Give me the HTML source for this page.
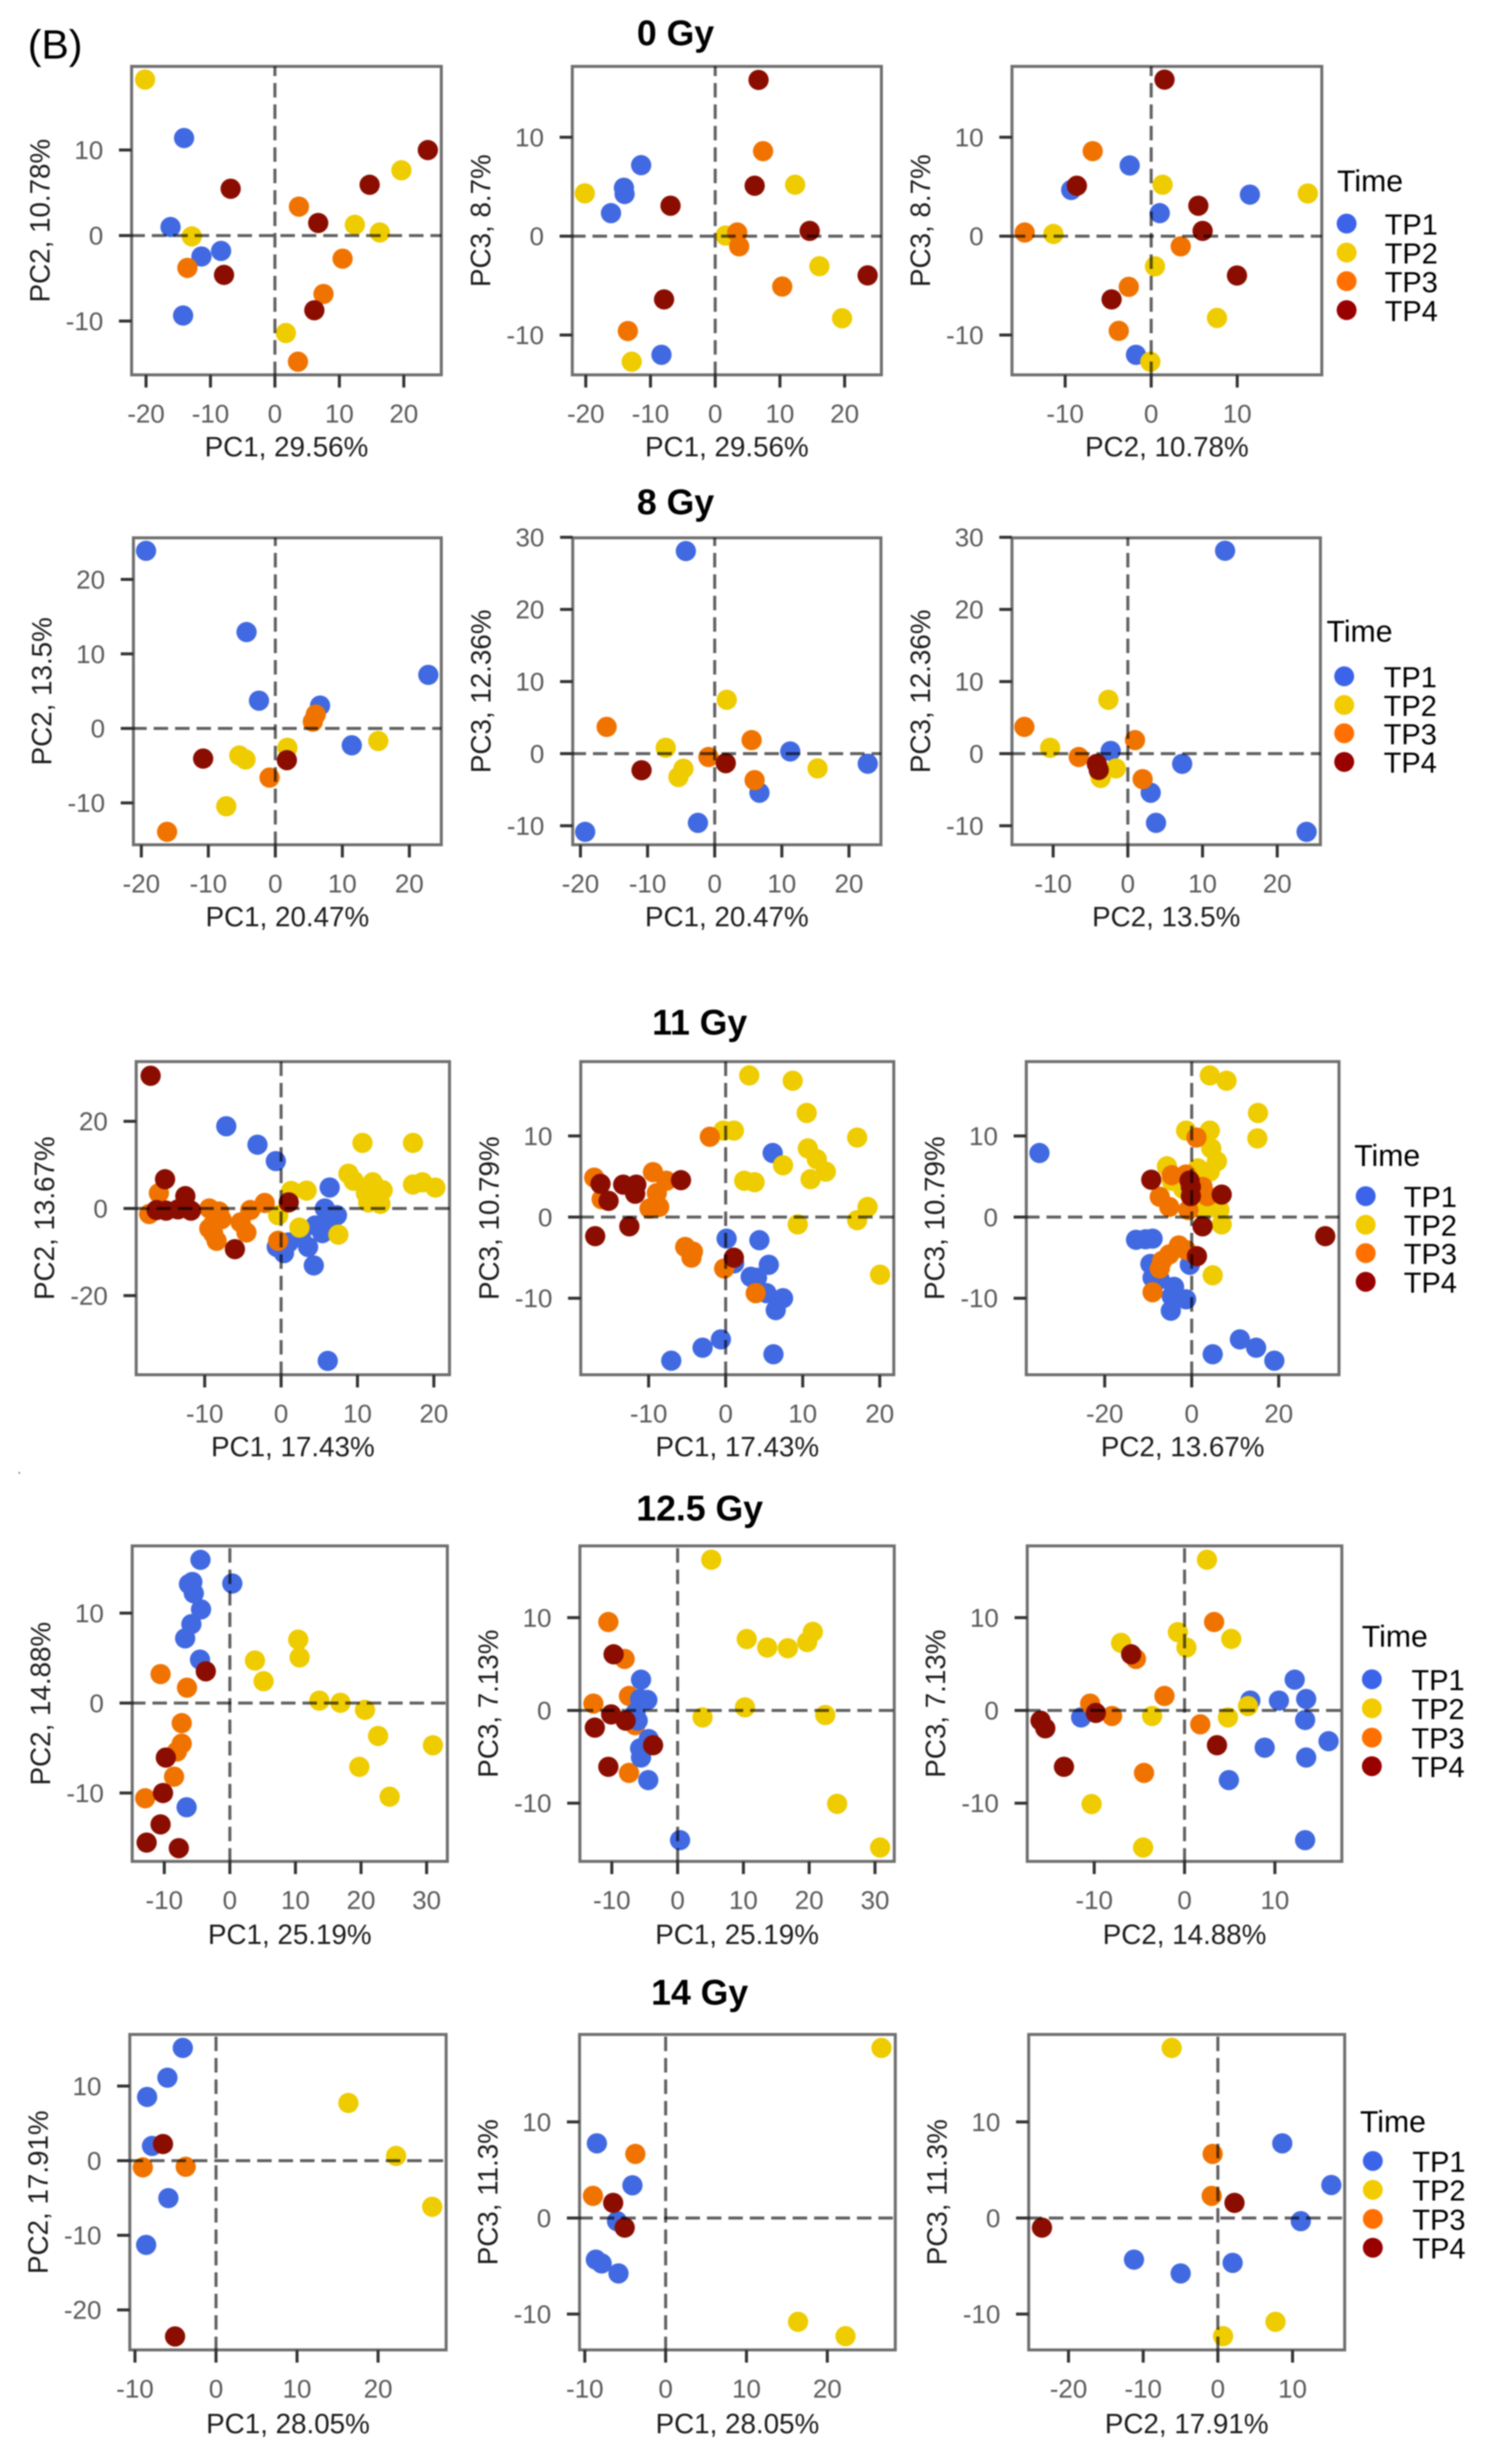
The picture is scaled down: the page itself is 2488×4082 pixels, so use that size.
<!DOCTYPE html>
<html lang="en">
<head>
<meta charset="utf-8">
<title>PCA score plots by dose</title>
<style>
html,body{margin:0;padding:0;background:#fff;}
body{width:2488px;height:4082px;overflow:hidden;}
svg{display:block;filter:blur(1px);font-family:"Liberation Sans",Arial,sans-serif;}
.tick{font-size:43px;fill:#5a5a5a;}
.axt{font-size:46px;fill:#1c1c1c;text-anchor:middle;}
.dose{font-size:59px;font-weight:bold;fill:#000;text-anchor:middle;}
.lgt{font-size:50px;fill:#000;}
.lgl{font-size:48px;fill:#000;}
</style>
</head>
<body>
<svg id="figure" xmlns="http://www.w3.org/2000/svg" width="2488" height="4082" viewBox="0 0 2488 4082">
  <rect x="0" y="0" width="2488" height="4082" fill="#fff"/>
  <text x="46" y="97" font-size="68" fill="#000">(B)</text>
  <text class="dose" x="1119" y="75">0 Gy</text>
  <text class="dose" x="1119" y="852">8 Gy</text>
  <text class="dose" x="1159" y="1714">11 Gy</text>
  <text class="dose" x="1159" y="2519">12.5 Gy</text>
  <text class="dose" x="1159" y="3321">14 Gy</text>
  <circle cx="32" cy="2440" r="1.5" fill="#777"/>
</svg>
<script>
// ---- categories ----
const categories = ['TP1','TP2','TP3','TP4'];
const legendTitle = 'Time';

// ---- tick labels ----
const ticksM20to20 = [-20,-10,0,10,20];
const ticksM10to10 = [-10,0,10];
const ticksM10to20 = [-10,0,10,20];
const ticksM10to30 = [-10,0,10,20,30];
const ticksM20to20by20 = [-20,0,20];
const ticksM20to10 = [-20,-10,0,10];

// ---- 0 Gy: PC1 vs PC2 ----
const g0a_tp1 = [[-14.1,11.4],[-16.2,1.0],[-11.4,-2.45],[-8.36,-1.8],[-14.25,-9.35]];
const g0a_tp2 = [[-20.15,18.24],[-12.9,-0.1],[12.4,1.26],[16.27,0.36],[19.63,7.63],[1.7,-11.4]];
const g0a_tp3 = [[3.73,3.38],[10.5,-2.7],[7.54,-6.83],[3.58,-14.75],[-13.58,-3.78]];
const g0a_tp4 = [[-6.87,5.47],[6.72,1.47],[14.7,5.94],[23.73,10],[6.12,-8.74],[-7.9,-4.6]];
// ---- 0 Gy: PC1 vs PC3 ----
const g0b_tp1 = [[-11.45,7.18],[-14.1,4.9],[-14.0,4.26],[-16.1,2.33],[-8.3,-12.0]];
const g0b_tp2 = [[-20.15,4.33],[-12.9,-12.7],[1.6,0.06],[12.35,5.2],[16.1,-3.04],[19.6,-8.3]];
const g0b_tp3 = [[3.4,0.37],[3.7,-1.03],[-13.5,-9.6],[7.4,8.6],[10.35,-5.1]];
const g0b_tp4 = [[-6.9,3.08],[-7.9,-6.4],[6.7,15.8],[6.1,5.1],[14.6,0.53],[23.55,-3.97]];
// ---- 0 Gy: PC2 vs PC3 ----
const g0c_tp1 = [[-2.5,7.15],[-9.3,4.67],[1.0,2.33],[11.47,4.2],[-1.77,-12.0]];
const g0c_tp2 = [[1.33,5.2],[18.2,4.32],[-11.36,0.22],[0.44,-3.05],[7.65,-8.27],[-0.1,-12.7]];
const g0c_tp3 = [[-6.8,8.6],[-14.7,0.37],[3.43,-1.03],[-2.6,-5.13],[-3.77,-9.58]];
const g0c_tp4 = [[1.55,15.83],[-8.64,5.1],[5.48,3.08],[5.98,0.53],[9.97,-3.98],[-4.6,-6.4]];

// ---- 8 Gy: PC1 vs PC2 ----
const g8a_tp1 = [[-19.3,23.84],[-4.3,12.93],[-2.44,3.72],[6.68,3.06],[22.83,7.19],[11.41,-2.27]];
const g8a_tp2 = [[15.36,-1.69],[1.8,-2.6],[-5.38,-3.64],[-4.45,-4.17],[-7.32,-10.45]];
const g8a_tp3 = [[6.03,1.86],[5.6,0.91],[-0.86,-6.6],[-16.15,-13.88]];
const g8a_tp4 = [[-10.77,-4.05],[1.72,-4.26]];
// ---- 8 Gy: PC1 vs PC3 ----
const g8b_tp1 = [[-4.3,28.1],[-19.3,-10.85],[-2.5,-9.6],[11.25,0.3],[22.8,-1.4],[6.67,-5.42]];
const g8b_tp2 = [[1.8,7.47],[-7.3,0.81],[-4.66,-2.09],[-5.4,-3.25],[15.33,-2.05]];
const g8b_tp3 = [[-16.1,3.71],[-0.93,-0.47],[5.5,1.88],[5.95,-3.67]];
const g8b_tp4 = [[-10.9,-2.3],[1.65,-1.32]];
// ---- 8 Gy: PC2 vs PC3 ----
const g8c_tp1 = [[13.02,28.14],[-2.3,0.38],[7.27,-1.41],[3.06,-5.42],[3.77,-9.6],[23.93,-10.85]];
const g8c_tp2 = [[-2.6,7.47],[-10.4,0.81],[-1.6,-2.05],[-3.64,-3.37],[-3.75,-2.8]];
const g8c_tp3 = [[-13.85,3.71],[-6.57,-0.47],[0.96,1.88],[1.98,-3.54]];
const g8c_tp4 = [[-4.15,-1.41],[-3.9,-2.26]];

// ---- 11 Gy: PC1 vs PC2 ----
const g11a_tp1 = [[-7.18,18.87],[-3.09,14.63],[-0.69,10.88],[6.36,4.81],[6.11,-34.98],[5.73,0],[7.31,-1.55],[6.05,-2.47],[4.47,-3.9],[5.4,-5.65],[2.58,-6.36],[3.53,-8.83],[4.28,-13.07],[0.38,-10.25],[-0.57,-8.83],[1,-7.8]];
const g11a_tp2 = [[10.65,15.05],[17.27,15.05],[8.82,7.99],[9.5,6.36],[17.27,5.5],[18.5,6],[20.2,4.8],[12,6],[13.3,4.2],[11.1,3.5],[13,1.06],[11.4,1.4],[1.32,4.03],[3.34,4.1],[-0.38,-1.55],[2.4,-4.38],[7.5,-6]];
const g11a_tp3 = [[-16,3.53],[-17.27,-1.27],[-9.4,0],[-8.13,-0.7],[-7.8,-2.47],[-8.8,-3.3],[-9.4,-4.6],[-8.9,-5.7],[-8.44,-7.42],[-5.3,-3.18],[-4.54,-5.5],[-4.03,-0.35],[-2.14,1.27],[-0.38,-7.42]];
const g11a_tp4 = [[-17.08,30.46],[-15.19,6.71],[-12.54,2.83],[-16.3,-0.35],[-15.06,-0.5],[-13.5,-0.2],[-11.8,-0.5],[-6.05,-9.33],[1,1.4]];
// ---- 11 Gy: PC1 vs PC3 ----
const g11b_tp1 = [[-7.06,-17.7],[-3,-16.1],[-0.62,-15.07],[0.12,-2.66],[1.1,-5.7],[3.25,-7.36],[4.38,-2.85],[6.1,7.9],[5.6,-5.88],[4.06,-7.48],[5.3,-9.37],[7.45,-10],[6.5,-11.46],[6.2,-16.9]];
const g11b_tp2 = [[3.06,17.46],[-0.3,10.66],[1.06,10.66],[2.4,4.48],[8.7,16.8],[10.52,12.83],[17.07,9.8],[10.67,8.46],[11.83,7.13],[7.45,6.38],[13,5.6],[11.02,4.67],[18.42,1.25],[17.07,-0.38],[9.35,-0.9],[20.04,-7.1],[3.75,4.3]];
const g11b_tp3 = [[-17.06,4.86],[-9.44,5.54],[-7.7,4.48],[-8.94,2.96],[-8.63,1.25],[-9.88,1.06],[-16.1,2.2],[-2.06,9.9],[-5.25,-3.68],[-4.25,-4.25],[-4.44,-5],[-0.2,-6.34],[3.9,-9.37]];
const g11b_tp4 = [[-5.8,4.55],[-16.25,4.1],[-15.2,2],[-13.3,4],[-11.6,4],[-11.75,2.88],[-16.94,-2.35],[-12.5,-1.14],[1.06,-5]];
// ---- 11 Gy: PC2 vs PC3 ----
const g11c_tp1 = [[-35,7.9],[-12.8,-2.8],[-10.6,-2.73],[-9,-2.66],[-9.5,-5.77],[-9,-7.48],[-7.34,-7.67],[-4.05,-8.6],[-4.6,-9.75],[-1.3,-10.13],[-4.8,-11.54],[-0.44,-5.88],[4.82,-16.9],[11.07,-15.07],[14.8,-16.1],[19,-17.7]];
const g11c_tp2 = [[4.16,17.46],[8,16.8],[15.23,12.83],[15.1,9.7],[-1.3,10.66],[4.16,10.66],[4.5,8.46],[5.8,6.87],[4.16,5.6],[1.42,6],[-5.7,6.26],[-4.6,4.48],[-2,3.5],[2.5,1],[6.36,0.87],[6.9,-0.9],[4.82,-7.17]];
const g11c_tp3 = [[1.1,9.8],[-4.6,5.16],[-1.3,5.24],[2.5,3.72],[3.6,2.58],[-7.34,2.5],[-5.15,1.25],[-0.77,0.87],[-2.96,-3.5],[-5.15,-4.6],[-1.3,-4.06],[-7.34,-6.34],[-9,-9.26],[-6.8,-5.4]];
const g11c_tp4 = [[-9.3,4.6],[-0.2,3.72],[-0.2,2.58],[6.9,2.77],[2.5,-1.14],[1.2,-4.82],[30.7,-2.35],[-0.5,4.5]];

// ---- 12.5 Gy: PC1 vs PC2 ----
const g12a_tp1 = [[-4.48,15.92],[0.37,13.29],[-5.72,13.46],[-6.24,13.22],[-5.5,12.2],[-4.4,10.41],[-5.87,8.77],[-6.82,7.19],[-4.55,4.83],[-6.6,-11.58]];
const g12a_tp2 = [[10.42,7.05],[10.64,5.07],[3.82,4.73],[5.14,2.43],[13.65,0.27],[16.87,0.03],[20.6,-0.75],[22.6,-3.66],[30.96,-4.69],[19.74,-7.09],[24.36,-10.41]];
const g12a_tp3 = [[-10.56,3.22],[-6.53,1.71],[-7.34,-2.23],[-7.34,-4.52],[-8.07,-5.38],[-8.51,-8.18],[-12.91,-10.58]];
const g12a_tp4 = [[-3.67,3.53],[-9.76,-6.06],[-10.2,-10],[-10.56,-13.49],[-12.69,-15.51],[-7.78,-16.13]];
// ---- 12.5 Gy: PC1 vs PC3 ----
const g12b_tp3 = [[-10.53,9.53],[-8.05,5.55],[-7.39,1.56],[-12.8,0.73],[-6.44,-1.6],[-7.39,-6.74]];
const g12b_tp1 = [[-5.56,3.32],[-5.7,1.23],[-4.6,1.13],[-6.07,-1.1],[-5.7,-4.09],[-4.39,-3.09],[-5.56,-5.08],[-4.46,-7.51],[0.37,-13.99],[-6.4,-0.27]];
const g12b_tp2 = [[5.12,16.25],[10.5,7.7],[13.62,6.78],[16.75,6.71],[19.7,7.38],[20.55,8.47],[3.8,-0.76],[10.24,0.33],[22.44,-0.5],[24.25,-10.07],[30.78,-14.78]];
const g12b_tp4 = [[-9.73,6.05],[-10.1,-0.43],[-7.9,-1.1],[-12.58,-1.86],[-10.53,-6.08],[-3.73,-3.75]];
// ---- 12.5 Gy: PC2 vs PC3 ----
const g12c_tp1 = [[12.19,3.32],[13.46,1.23],[10.45,1.06],[7.28,1.06],[-11.45,-0.76],[13.35,-1.03],[15.94,-3.32],[8.87,-4.02],[13.46,-5.08],[4.91,-7.51],[13.35,-13.99]];
const g12c_tp2 = [[2.48,16.25],[-0.74,8.44],[0.21,6.78],[-7.02,7.28],[5.17,7.71],[7.02,0.47],[4.8,-0.76],[-3.59,-0.6],[-10.29,-10.1],[-4.59,-14.78]];
const g12c_tp3 = [[3.27,9.53],[-5.38,5.55],[-2.22,1.56],[-10.45,0.73],[-8.02,-0.6],[1.74,-1.5],[-4.49,-6.74]];
const g12c_tp4 = [[-5.91,6.05],[-9.82,-0.27],[-15.94,-1.1],[-15.41,-1.93],[-13.35,-6.08],[3.59,-3.75]];

// ---- 14 Gy: PC1 vs PC2 ----
const g14a_tp1 = [[-4.1,15.11],[-6,11.12],[-8.5,8.54],[-7.9,1.97],[-5.88,-5.02],[-8.62,-11.29]];
const g14a_tp2 = [[16.34,7.73],[22.22,0.64],[26.68,-6.18]];
const g14a_tp3 = [[-9.03,-0.9],[-3.74,-0.82]];
const g14a_tp4 = [[-6.54,2.23],[-5.05,-23.56]];
// ---- 14 Gy: PC1 vs PC3 ----
const g14b_tp1 = [[-8.51,7.77],[-4.11,3.4],[-6.01,-0.33],[-8.63,-4.33],[-7.92,-4.73],[-5.83,-5.77]];
const g14b_tp2 = [[26.7,17.7],[16.38,-10.8],[22.25,-12.3]];
const g14b_tp3 = [[-3.75,6.67],[-8.99,2.3]];
const g14b_tp4 = [[-6.49,1.57],[-5.06,-1]];
// ---- 14 Gy: PC2 vs PC3 ----
const g14c_tp1 = [[8.62,7.77],[15.19,3.43],[11.1,-0.33],[-11.23,-4.33],[-4.98,-5.77],[1.98,-4.67]];
const g14c_tp2 = [[-6.19,17.7],[7.72,-10.8],[0.7,-12.3]];
const g14c_tp3 = [[-0.7,6.67],[-0.83,2.3]];
const g14c_tp4 = [[2.23,1.57],[-23.55,-1]];

// ---- styling and layout (not data) ----
const pointColors = ['#4169e1','#eecc00','#f07300','#8b0d00'];
const legendColors = ['#3c64ea','#f2cc00','#ff7000','#990000'];
const NS = 'http://www.w3.org/2000/svg';
const svg = document.getElementById('figure');

const layout = [
 {id:'0gy-pc1-pc2',box:[218,110,731,621],xd:[-22.24,25.82],yd:[-16.29,19.78],xt:ticksM20to20,yt:ticksM10to10,xl:'PC1, 29.56%',yl:'PC2, 10.78%',lo:135,s:[g0a_tp1,g0a_tp2,g0a_tp3,g0a_tp4]},
 {id:'0gy-pc1-pc3',box:[948,110,1460,621],xd:[-22.08,25.68],yd:[-14.03,17.17],xt:ticksM20to20,yt:ticksM10to10,xl:'PC1, 29.56%',yl:'PC3, 8.7%',lo:135,s:[g0b_tp1,g0b_tp2,g0b_tp3,g0b_tp4]},
 {id:'0gy-pc2-pc3',box:[1676.3,110,2189.5,621],xd:[-16.18,19.83],yd:[-14.03,17.17],xt:ticksM10to10,yt:ticksM10to10,xl:'PC2, 10.78%',yl:'PC3, 8.7%',lo:135,s:[g0c_tp1,g0c_tp2,g0c_tp3,g0c_tp4]},
 {id:'8gy-pc1-pc2',box:[221,891,731,1399.5],xd:[-21.18,24.77],yd:[-15.62,25.58],xt:ticksM20to20,yt:ticksM10to20,xl:'PC1, 20.47%',yl:'PC2, 13.5%',lo:135,s:[g8a_tp1,g8a_tp2,g8a_tp3,g8a_tp4]},
 {id:'8gy-pc1-pc3',box:[948.7,891,1459.2,1399.5],xd:[-21.15,24.76],yd:[-12.64,29.93],xt:ticksM20to20,yt:ticksM10to30,xl:'PC1, 20.47%',yl:'PC3, 12.36%',lo:135,s:[g8b_tp1,g8b_tp2,g8b_tp3,g8b_tp4]},
 {id:'8gy-pc2-pc3',box:[1676.3,891,2187.2,1399.5],xd:[-15.51,25.78],yd:[-12.64,29.93],xt:ticksM10to20,yt:ticksM10to30,xl:'PC2, 13.5%',yl:'PC3, 12.36%',lo:135,s:[g8c_tp1,g8c_tp2,g8c_tp3,g8c_tp4]},
 {id:'11gy-pc1-pc2',box:[225.6,1758.7,744.6,2277.5],xd:[-18.97,22.05],yd:[-38.16,33.71],xt:ticksM10to20,yt:ticksM20to20by20,xl:'PC1, 17.43%',yl:'PC2, 13.67%',lo:135,s:[g11a_tp1,g11a_tp2,g11a_tp3,g11a_tp4]},
 {id:'11gy-pc1-pc3',box:[962,1758.7,1480.5,2277.5],xd:[-18.81,21.82],yd:[-19.43,19.16],xt:ticksM10to20,yt:ticksM10to10,xl:'PC1, 17.43%',yl:'PC3, 10.79%',lo:135,s:[g11b_tp1,g11b_tp2,g11b_tp3,g11b_tp4]},
 {id:'11gy-pc2-pc3',box:[1700,1758.7,2218,2277.5],xd:[-38.03,33.86],yd:[-19.43,19.16],xt:ticksM20to20by20,yt:ticksM10to10,xl:'PC2, 13.67%',yl:'PC3, 10.79%',lo:135,s:[g11c_tp1,g11c_tp2,g11c_tp3,g11c_tp4]},
 {id:'12-5gy-pc1-pc2',box:[219,2561,741,3083.7],xd:[-14.89,33.16],yd:[-17.6,17.47],xt:ticksM10to30,yt:ticksM10to10,xl:'PC1, 25.19%',yl:'PC2, 14.88%',lo:137,s:[g12a_tp1,g12a_tp2,g12a_tp3,g12a_tp4]},
 {id:'12-5gy-pc1-pc3',box:[960.6,2561,1481.3,3083.7],xd:[-14.85,32.93],yd:[-16.28,17.74],xt:ticksM10to30,yt:ticksM10to10,xl:'PC1, 25.19%',yl:'PC3, 7.13%',lo:137,s:[g12b_tp3,g12b_tp1,g12b_tp2,g12b_tp4],cidx:[2,0,1,3]},
 {id:'12-5gy-pc2-pc3',box:[1701.6,2561,2222.7,3083.7],xd:[-17.41,17.41],yd:[-16.28,17.74],xt:ticksM10to10,yt:ticksM10to10,xl:'PC2, 14.88%',yl:'PC3, 7.13%',lo:137,s:[g12c_tp1,g12c_tp2,g12c_tp3,g12c_tp4]},
 {id:'14gy-pc1-pc2',box:[215,3370.4,739,3893],xd:[-10.64,28.4],yd:[-25.36,16.91],xt:ticksM10to20,yt:ticksM20to10,xl:'PC1, 28.05%',yl:'PC2, 17.91%',lo:138,s:[g14a_tp1,g14a_tp2,g14a_tp3,g14a_tp4]},
 {id:'14gy-pc1-pc3',box:[960,3370.4,1483,3893],xd:[-10.65,28.41],yd:[-13.73,19.1],xt:ticksM10to20,yt:ticksM10to10,xl:'PC1, 28.05%',yl:'PC3, 11.3%',lo:138,s:[g14b_tp1,g14b_tp2,g14b_tp3,g14b_tp4]},
 {id:'14gy-pc2-pc3',box:[1704,3370.4,2227.4,3893],xd:[-25.33,16.98],yd:[-13.73,19.1],xt:ticksM20to10,yt:ticksM10to10,xl:'PC2, 17.91%',yl:'PC3, 11.3%',lo:138,s:[g14c_tp1,g14c_tp2,g14c_tp3,g14c_tp4]}
];

const legends = [
 {id:'0-gy',tx:2214.8,ty:317,dx:2230.6,lx:2293.7,rows:[370.4,418.4,465.8,513.8]},
 {id:'8-gy',tx:2197.4,ty:1063,dx:2226.6,lx:2292,rows:[1120.4,1167.9,1214.8,1262.2]},
 {id:'11-gy',tx:2243.2,ty:1931.6,dx:2262.2,lx:2325.3,rows:[1981.6,2029,2076,2123.5]},
 {id:'12-5-gy',tx:2255.8,ty:2728,dx:2272.4,lx:2338,rows:[2782,2830,2878.6,2926]},
 {id:'14-gy',tx:2252.7,ty:3532,dx:2274,lx:2339.5,rows:[3580,3627.7,3676,3723.7]}
];

function node(tag, parent, attrs){
  const el = document.createElementNS(NS, tag);
  for (const k in attrs) el.setAttribute(k, attrs[k]);
  parent.appendChild(el);
  return el;
}

layout.forEach(function(p){
  const L = p.box[0], T = p.box[1], R = p.box[2], B = p.box[3];
  const sx = function(v){ return L + (v - p.xd[0]) / (p.xd[1] - p.xd[0]) * (R - L); };
  const sy = function(v){ return B - (v - p.yd[0]) / (p.yd[1] - p.yd[0]) * (B - T); };

  const g = node('g', svg, {});
  
  

  p.s.forEach(function(series, i){
    const ci = p.cidx ? p.cidx[i] : i;
    series.forEach(function(pt){
      const c = node('circle', g, {cx: sx(pt[0]).toFixed(1), cy: sy(pt[1]).toFixed(1), r: 16.8, fill: pointColors[ci]});
      
      
    });
  });

  const fr = node('rect', g, {x: L, y: T, width: R - L, height: B - T, fill: 'none', stroke: '#707070', 'stroke-width': 5});
  
  

  const hl = node('line', g, {x1: L - 2, x2: R, y1: sy(0), y2: sy(0), stroke: '#000', 'stroke-opacity': 0.62, 'stroke-width': 5, 'stroke-dasharray': '24 11.5'});
  
  
  const vl = node('line', g, {x1: sx(0), x2: sx(0), y1: B + 2, y2: T, stroke: '#000', 'stroke-opacity': 0.62, 'stroke-width': 5, 'stroke-dasharray': '24 11.5'});
  
  

  p.xt.forEach(function(v){
    const tk = node('line', g, {x1: sx(v), x2: sx(v), y1: B, y2: B + 21, stroke: '#333', 'stroke-width': 5});
    
    
    const tl = node('text', g, {x: sx(v), y: B + 79, 'text-anchor': 'middle', 'class': 'tick'});
    
    
    tl.textContent = String(v);
  });
  p.yt.forEach(function(v){
    const tk = node('line', g, {x1: L - 21, x2: L, y1: sy(v), y2: sy(v), stroke: '#333', 'stroke-width': 5});
    
    
    const tl = node('text', g, {x: L - 47, y: sy(v) + 15, 'text-anchor': 'end', 'class': 'tick'});
    
    
    tl.textContent = String(v);
  });

  const xa = node('text', g, {x: (L + R) / 2, y: B + p.lo, 'class': 'axt'});
  
  
  xa.textContent = p.xl;
  const ya = node('text', g, {transform: 'translate(' + (L - 136) + ' ' + ((T + B) / 2) + ') rotate(-90)', 'class': 'axt'});
  
  
  ya.textContent = p.yl;
});

legends.forEach(function(l){
  const g = node('g', svg, {});
  
  
  const t = node('text', g, {x: l.tx, y: l.ty, 'class': 'lgt'});
  
  
  t.textContent = legendTitle;
  categories.forEach(function(cat, i){
    const d = node('circle', g, {cx: l.dx, cy: l.rows[i], r: 16.5, fill: legendColors[i]});
    
    
    const tx = node('text', g, {x: l.lx, y: l.rows[i] + 18, 'class': 'lgl'});
    
    
    tx.textContent = cat;
  });
});
</script>
</body>
</html>
